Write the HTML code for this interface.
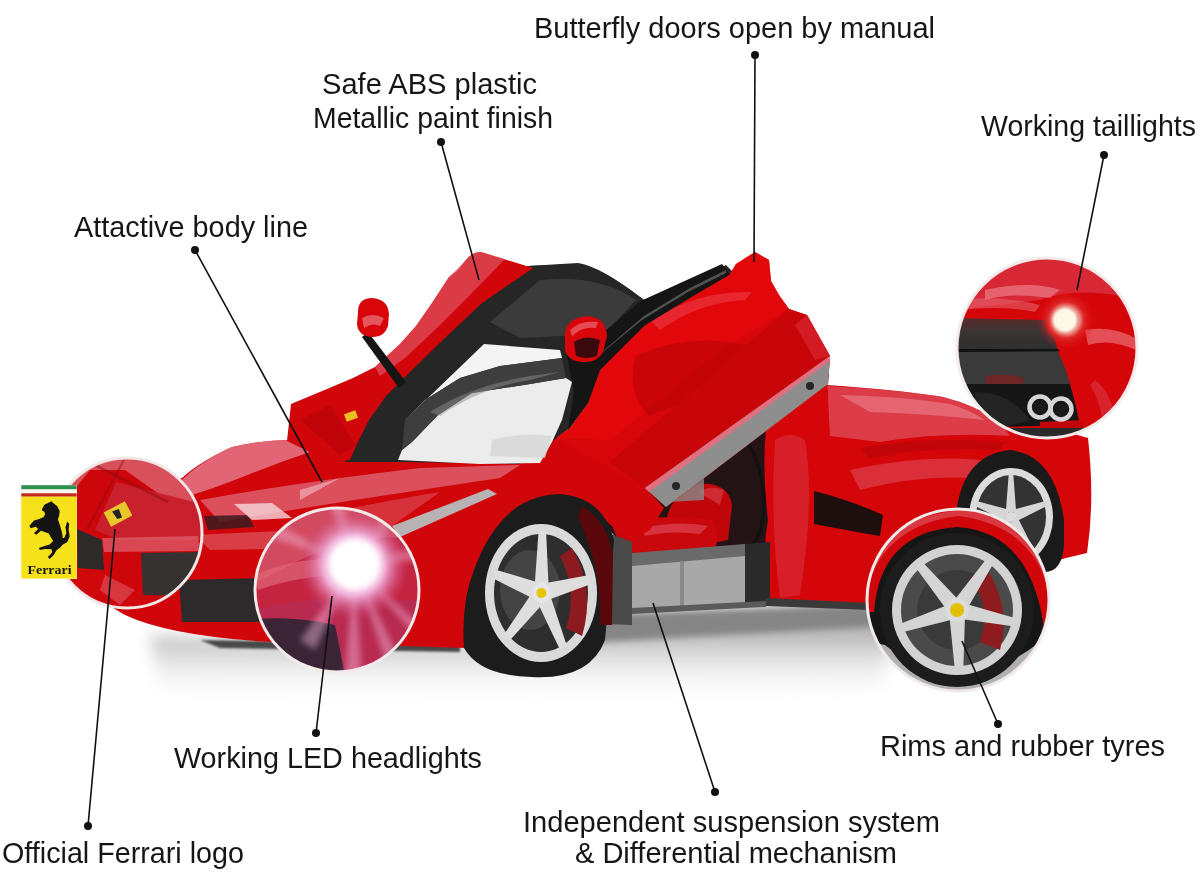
<!DOCTYPE html>
<html><head><meta charset="utf-8">
<style>
html,body{margin:0;padding:0;background:#fff;}
body{width:1200px;height:885px;overflow:hidden;position:relative;}
svg{position:absolute;left:0;top:0;display:block;will-change:transform;}
text{font-family:"Liberation Sans",sans-serif;font-size:29px;fill:#161616;}
</style></head>
<body>
<svg width="1200" height="885" viewBox="0 0 1200 885">
<defs>
  <filter id="blur8" x="-50%" y="-50%" width="200%" height="200%"><feGaussianBlur stdDeviation="8"/></filter>
  <filter id="blur3" x="-50%" y="-50%" width="200%" height="200%"><feGaussianBlur stdDeviation="3"/></filter>
  <filter id="blur1" x="-50%" y="-50%" width="200%" height="200%"><feGaussianBlur stdDeviation="1.2"/></filter>
  <linearGradient id="redV" x1="0" y1="0" x2="0" y2="1">
    <stop offset="0" stop-color="#e02530"/><stop offset="0.5" stop-color="#d00508"/><stop offset="1" stop-color="#a80306"/>
  </linearGradient>
  <radialGradient id="rimG" cx="0.5" cy="0.5" r="0.5">
    <stop offset="0.8" stop-color="#2a2a2a"/><stop offset="0.86" stop-color="#d8d8d8"/><stop offset="1" stop-color="#bdbdbd"/>
  </radialGradient>
</defs>
<rect width="1200" height="885" fill="#fff"/>

<!-- ground shadow -->
<g id="shadow">
  <defs>
    <linearGradient id="shG" x1="0" y1="0" x2="0" y2="1">
      <stop offset="0" stop-color="#8e8e8e"/><stop offset="0.35" stop-color="#bdbdbd"/><stop offset="1" stop-color="#ffffff" stop-opacity="0"/>
    </linearGradient>
  </defs>
  <path d="M150,636 L460,642 L600,622 L880,600 L900,620 L880,690 L600,700 L300,705 L160,690 Z" fill="url(#shG)" filter="url(#blur8)"/>
  <path d="M200,640 L460,644 L460,652 L220,648 Z" fill="#4a4a4a" filter="url(#blur1)"/>
  <path d="M600,614 L870,606 L880,626 L600,642 Z" fill="#858585" filter="url(#blur3)"/>
</g>
<!-- CAR -->
<g id="car">
  <!-- rear body -->
  <path d="M740,430 L827,385 Q900,390 943,397 Q975,405 1000,422 L1060,430 L1088,438 Q1095,500 1087,553 L1066,558 L1000,578 L856,606 L740,606 Z" fill="#d4060a"/>
  <path d="M827,386 Q900,390 943,397 Q975,405 1000,422 L1010,436 Q940,432 880,442 L830,436 Z" fill="#e05262" opacity="0.7"/>
  <path d="M840,395 Q900,396 950,404 Q970,410 985,420 Q930,414 870,412 Z" fill="#f09aa4" opacity="0.45"/>
  <path d="M860,448 Q930,436 1005,442 L1000,450 Q930,446 870,458 Z" fill="#b00408" opacity="0.5"/>
  <path d="M850,470 Q930,452 1000,462 L990,480 Q930,472 860,490 Z" fill="#e26070" opacity="0.45"/>
  <!-- rear wheel -->
  <path d="M956,515 Q962,455 1010,450 Q1055,455 1064,520 L1064,545 Q1062,572 1045,572 L956,572 Z" fill="#1a1a1a"/>
  <ellipse cx="1011" cy="517" rx="42" ry="49" fill="#dcdcdc"/>
  <ellipse cx="1011" cy="517" rx="35" ry="42" fill="#333"/>
  <path d="M1009.1,509.8 L976.5,500.9 L975.1,505.9 L1005.9,521.5 Z M1016.2,512.6 L1013.2,473.0 L1008.8,473.0 L1005.8,512.6 Z M1016.1,521.5 L1046.9,505.9 L1045.5,500.9 L1012.9,509.8 Z M1009.0,524.2 L1031.0,554.1 L1034.5,551.0 L1017.4,516.9 Z M1004.6,516.9 L987.5,551.0 L991.0,554.1 L1013.0,524.2 Z" fill="#d6d6d6"/>
  <circle cx="1011" cy="517" r="5" fill="#ddd"/>
  <!-- interior -->
  <path d="M600,430 L780,420 L775,560 L633,556 L600,520 Z" fill="#231315"/>
  <path d="M664,532 Q668,492 700,484 Q728,482 732,505 L728,540 L690,548 Z" fill="#c00608"/>
  <path d="M612,525 Q660,512 712,520 Q722,538 712,556 L625,558 Z" fill="#c8080c"/>
  <path d="M640,528 Q680,520 708,526 L700,534 Q670,530 645,536 Z" fill="#e05060" opacity="0.6"/>
  <path d="M698,492 Q712,484 724,490 L720,505 Z" fill="#e05060" opacity="0.5"/>
  <path d="M664,477 L704,466 L704,500 L668,502 Z" fill="#8a8a8a" opacity="0.8"/>
  <!-- rear side panel -->
  <path d="M766,428 Q790,410 815,398 L828,388 L832,600 L772,600 Q760,560 768,520 Q762,470 766,428 Z" fill="#d4060a"/>
  <path d="M775,440 Q790,430 805,440 Q815,500 800,595 L780,598 Q770,520 775,440 Z" fill="#d83444" opacity="0.55"/>
  <path d="M814,491 Q850,500 883,515 L880,536 Q845,530 814,524 Z" fill="#1e0e0e"/>
  <path d="M749,445 Q764,470 764,507 Q762,540 749,546 L634,559" stroke="#111" stroke-width="3" fill="none"/>
  <!-- side skirt + sill -->
  <path d="M606,532 L632,542 L632,625 L606,624 Z" fill="#4a4a4a"/>
  <path d="M632,556 L745,546 L745,606 L632,613 Z" fill="#a8a8a8"/>
  <path d="M632,553 L745,544 L745,556 L632,566 Z" fill="#6a6a6a"/>
  <path d="M745,544 L770,542 L770,604 L745,606 Z" fill="#2a2a2a"/>
  <path d="M680,561 L684,561 L684,610 L680,610 Z" fill="#8a8a8a"/>
  <path d="M632,608 L766,601 L766,607 L632,614 Z" fill="#5a5a5a"/>
  <path d="M766,598 L870,603 L870,610 L766,606 Z" fill="#3a3a3a"/>
  <!-- front body -->
  <path d="M72,530 Q95,490 182,478 Q199,462 232,447 Q262,440 290,440 L400,440 L398,457 L520,464 L560,430 L645,487 L664,508 L650,530 L633,540 L613,527 Q590,506 555,497 Q520,505 495,540 Q472,590 466,648 L270,642 Q170,636 125,615 Q80,590 72,560 Z" fill="#d0060a"/>
  <!-- hood highlight -->
  <path d="M180,482 Q199,462 232,447 Q262,440 290,440 L310,452 Q280,462 250,474 Q210,490 182,498 Z" fill="#e27080" opacity="0.9"/>
  
  <path d="M200,500 Q300,482 420,468 L520,465 L500,478 L420,490 Q320,505 220,522 Z" fill="#e06878" opacity="0.75"/>
  <path d="M300,520 Q360,505 440,492 L392,526 L320,545 Z" fill="#e06878" opacity="0.45"/>
  <path d="M204,516 L248,515 L254,527 L208,530 Z" fill="#3a1a1e" opacity="0.85"/>
  <path d="M234,504 L272,503 L292,518 L252,520 Z" fill="#f6d6dc" opacity="0.8"/>
  <path d="M300,490 L340,478 L300,500 Z" fill="#f4c0c8" opacity="0.6"/>
  <path d="M195,535 L300,530 L392,526 L320,548 L210,550 Z" fill="#e27482" opacity="0.5"/>
  <!-- headlight strip -->
  <path d="M392,526 L488,489 L497,494 L400,537 Z" fill="#b9b2b4"/>
  <!-- front grille -->
  <path d="M179,580 L262,578 L265,622 L182,622 Z" fill="#2c2a2a"/>
  <!-- front wheel -->
  <path d="M464,648 Q461,602 474,570 Q490,525 520,505 Q540,494 560,494 Q604,498 614,540 L605,640 Q590,680 532,677 Q480,676 464,648 Z" fill="#1c1c1c"/>
  <path d="M582,506 Q608,522 613,556 L612,625 L600,625 Q602,566 578,518 Z" fill="#5a080c"/>
  <ellipse cx="541" cy="593" rx="56" ry="69" fill="#dadada"/>
  <ellipse cx="541" cy="593" rx="47" ry="59" fill="#2e2e2e"/>
  <ellipse cx="530" cy="590" rx="30" ry="40" fill="#444"/>
  <path d="M572,548 Q596,590 582,636 L566,628 Q578,592 560,556 Z" fill="#8c1a1e"/>
  <path d="M538.9,582.8 L495.1,569.4 L492.8,578.3 L534.6,599.3 Z M548.6,587.0 L546.1,531.1 L538.6,530.9 L534.6,586.6 Z M547.9,600.1 L591.1,584.1 L589.5,575.0 L544.9,583.2 Z M537.5,602.4 L560.4,650.6 L567.1,646.5 L550.0,594.7 Z M533.0,591.4 L504.1,634.4 L509.5,640.8 L543.1,603.5 Z" fill="#dedede"/>
  <ellipse cx="541.5" cy="593" rx="9" ry="10" fill="#e6e6e6"/>
  <circle cx="541.5" cy="593" r="5" fill="#e5c400"/>
  <!-- cabin dark -->
  <path d="M345,462 L352,446 L365,420 L382,396 L408,370 L442,337 L478,303 L528,266 L578,264 Q600,266 644,300 L726,265 L733,272 L661,320 L617,367 L588,403 L570,428 L534,455 L520,464 L400,462 Z" fill="#262626"/>
  <!-- black roof -->
  <path d="M528,266 L578,263 Q600,266 644,300 L611,331 L597,350 L560,348 L484,342 L412,414 L408,370 L442,337 L478,303 Z" fill="#262626"/>
  <path d="M540,280 Q600,274 636,300 L604,334 L520,338 L490,322 Z" fill="#4a4a4a" opacity="0.6"/>
  <!-- windshield light -->
  <path d="M405,420 L484,344 L560,350 L562,358 L500,366 L460,378 L425,400 Z" fill="#f4f4f4"/>
  <path d="M398,460 L402,450 L412,442 L438,415 L472,393 L530,384 L566,378 L572,382 L562,420 L552,442 L540,463 L480,464 Z" fill="#ececec"/>
  <path d="M405,420 L425,400 L460,378 L500,366 L562,358 L566,378 L530,384 L472,393 L438,415 L412,442 L402,450 Z" fill="#3e3e3e"/>
  <path d="M430,412 Q470,386 530,376 L560,372 L530,380 Q480,388 440,416 Z" fill="#8a8a8a" opacity="0.5"/>
  <path d="M492,440 Q520,432 552,436 L545,458 L490,456 Z" fill="#d6d6d6" opacity="0.8"/>
  <!-- left door -->
  <path d="M287,441 L291,404 L327,389 L353,378 L375,367 L400,344 L416,326 L432,303 L449,277 L457,271 L466,260 Q472,252 481,252 L533,268 L482,303 L446,337 L412,370 L386,396 L369,420 L356,446 L350,460 L330,462 Z" fill="#d0060a"/>
  <path d="M300,420 L330,405 L356,446 L340,455 Z" fill="#b80408" opacity="0.6"/>
  <path d="M375,367 L400,344 L416,326 L432,303 L449,277 L466,260 Q472,252 481,252 L505,259 L470,295 L440,325 L405,358 L380,376 Z" fill="#de5866" opacity="0.65"/>
  <rect x="345" y="412" width="12" height="8" fill="#e8c020" transform="rotate(-20 351 416)"/>
  <!-- left mirror -->
  <path d="M368,332 L406,382 L399,388 L362,337 Z" fill="#151515"/>
  <path d="M358,312 Q358,298 372,298 Q388,299 389,314 L388,326 Q384,338 372,337 Q358,336 357,324 Z" fill="#d8060a"/>
  <path d="M362,318 Q372,312 384,318 L380,326 Q372,322 364,328 Z" fill="#f08a94" opacity="0.6"/>
  <!-- right door -->
  <path d="M730,274 L736,264 L755,252 L769,260 L771,281 L779,295 L789,309 L807,315 L830,356 L828,384 L666,507 L645,488 L556,438 L570,428 L588,403 L600,370 L644.7,325.4 L691.5,297 Z" fill="#d7060a"/>
  <path d="M736,264 L755,252 L769,260 L771,281 L779,295 L789,309 L720,350 L660,400 L610,440 L556,438 L570,428 L588,403 L600,370 L644,325 L691,297 L730,274 Z" fill="#e4080c" opacity="0.85"/>
  <path d="M636,356 Q690,332 745,345 L738,382 Q700,396 648,416 Q626,392 636,356 Z" fill="#b00406" opacity="0.5"/>
  <path d="M650,320 Q700,290 752,292 L745,300 Q700,302 660,330 Z" fill="#f06070" opacity="0.35"/>
  <path d="M789,309 L807,315 L830,356 L828,384 L666,507 L645,488 L610,462 Z" fill="#c80508"/>
  <path d="M807,315 L830,356 L815,360 L795,325 Z" fill="#d82a36" opacity="0.6"/>
  <!-- right door frame -->
  <path d="M722,264 L640.7,301 L600,335.6 L578,367 L574,392 L568,430 L588,403 L600,370 L644.7,325.4 L691.5,297 L730,274.6 Z" fill="#151515"/>
  <path d="M726,270 L690,288 L644,316 L602,352 L598,356 L642,320 L688,292 L726,273 Z" fill="#6a6a6a" opacity="0.7"/>
  <!-- door bottom grey strip -->
  <path d="M830,356 L828,384 L666,507 L645,488 Z" fill="#8e8e8e"/>
  <path d="M830,356 L645,488 L649,492 L830,361 Z" fill="#e07080"/>
  <circle cx="810" cy="386" r="4" fill="#262626"/>
  <circle cx="676" cy="486" r="4" fill="#262626"/>
  <!-- right mirror -->
  <path d="M566,352 L580,356 L588,400 L576,402 Z" fill="#151515"/>
  <path d="M565,334 Q566,318 588,316 Q606,318 607,336 L603,352 Q598,362 584,362 Q568,362 565,350 Z" fill="#d8060a"/>
  <path d="M574,342 Q586,334 600,340 L597,356 Q586,360 576,356 Z" fill="#3a0a0e"/>
  <path d="M570,330 Q580,320 598,322 L596,328 Q582,326 572,336 Z" fill="#f07a84" opacity="0.6"/>
</g>

<!-- CIRCLES -->
<g id="circles">
  <defs>
    <clipPath id="cLogo"><circle cx="127" cy="533" r="75"/></clipPath>
    <clipPath id="cHead"><circle cx="337" cy="590" r="82"/></clipPath>
    <clipPath id="cTail"><circle cx="1047" cy="348" r="90"/></clipPath>
    <clipPath id="cWheel"><circle cx="958" cy="600" r="91"/></clipPath>
    <radialGradient id="glow" cx="0.5" cy="0.5" r="0.5">
      <stop offset="0" stop-color="#fff"/><stop offset="0.3" stop-color="#fff"/><stop offset="0.55" stop-color="#f0b0d8"/><stop offset="1" stop-color="#c83a70" stop-opacity="0"/>
    </radialGradient>
    <radialGradient id="tl" cx="0.5" cy="0.5" r="0.5">
      <stop offset="0" stop-color="#fffbe8"/><stop offset="0.55" stop-color="#fff0d0"/><stop offset="0.7" stop-color="#e03030"/><stop offset="1" stop-color="#b80305"/>
    </radialGradient>
  </defs>
  <!-- logo circle -->
  <g clip-path="url(#cLogo)">
    <rect x="50" y="455" width="160" height="160" fill="#cc060a"/>
    <path d="M50,455 L210,455 L210,505 L169,501 L125,470 L90,470 L50,520 Z" fill="#d8505a"/>
    <path d="M116,482 L198,503 L210,520 L200,540 L120,540 L95,530 Z" fill="#c8202c"/>
    <path d="M96,464 L169,501 L167,503 L94,466 Z" fill="#8a0c14" opacity="0.45"/>
    <path d="M125,460 L88,530 L86,529 L123,459 Z" fill="#8a0c14" opacity="0.4"/>
    <path d="M102,538 L198,536 L200,551 L104,552 Z" fill="#e06470" opacity="0.7"/>
    <path d="M77,529 L102,540 L104,570 L78,568 Z" fill="#2e2a2a"/>
    <path d="M141,553 L200,552 L198,596 L143,595 Z" fill="#363232"/>
    <path d="M50,570 L102,572 L140,600 L210,598 L210,615 L50,615 Z" fill="#d0080c"/>
    <path d="M105,575 L135,590 L120,605 L100,590 Z" fill="#e06470" opacity="0.5"/>
    <g transform="translate(118,514) rotate(-28)"><rect x="-12" y="-8" width="24" height="16" fill="#e9c62a"/><path d="M-4,-5 L3,-4 L2,5 L-3,4 Z" fill="#222"/></g>
  </g>
  <circle cx="127" cy="533" r="75" fill="none" stroke="#f2e6e6" stroke-width="3"/>
  <!-- headlight circle -->
  <g clip-path="url(#cHead)">
    <rect x="250" y="505" width="175" height="170" fill="#c42440"/>
    <path d="M250,505 L425,505 L425,540 Q360,530 300,560 L250,585 Z" fill="#d24a60"/>
    <path d="M255,575 Q300,555 350,560 L350,575 Q300,575 258,590 Z" fill="#e06878" opacity="0.7"/>
    <path d="M250,610 Q300,600 340,598 L420,600 L420,675 L250,675 Z" fill="#b82a50"/>
    <path d="M250,620 Q290,615 335,625 L345,675 L250,675 Z" fill="#3a2436"/>
    <g fill="#f4b8dc" opacity="0.45" filter="url(#blur3)">
      <path d="M354,566 L300,640 L315,650 Z"/>
      <path d="M354,566 L345,675 L362,675 Z"/>
      <path d="M354,566 L390,675 L405,670 Z"/>
      <path d="M354,566 L420,640 L420,625 Z"/>
      <path d="M354,566 L420,560 L420,545 Z"/>
      <path d="M354,566 L390,505 L405,510 Z"/>
      <path d="M354,566 L330,505 L345,505 Z"/>
      <path d="M354,566 L270,520 L265,535 Z"/>
    </g>
    <circle cx="354" cy="565" r="56" fill="url(#glow)"/>
    <circle cx="355" cy="564" r="25" fill="#fff" filter="url(#blur3)"/>
  </g>
  <circle cx="337" cy="590" r="82" fill="none" stroke="#f4eaea" stroke-width="3"/>
  <!-- taillight circle -->
  <g clip-path="url(#cTail)">
    <defs>
      <linearGradient id="tailBand" x1="0" y1="0" x2="0" y2="1">
        <stop offset="0" stop-color="#5a2a2c"/><stop offset="0.4" stop-color="#3a3434"/><stop offset="1" stop-color="#2e2e2e"/>
      </linearGradient>
      <radialGradient id="tlHalo" cx="0.5" cy="0.5" r="0.5">
        <stop offset="0" stop-color="#fff8e8"/><stop offset="0.45" stop-color="#fff0dc"/><stop offset="0.6" stop-color="#f04040"/><stop offset="1" stop-color="#d80508" stop-opacity="0"/>
      </radialGradient>
    </defs>
    <rect x="955" y="256" width="185" height="185" fill="#d4060a"/>
    <path d="M955,256 L1140,256 L1140,300 Q1080,285 1040,300 L955,310 Z" fill="#d83040" opacity="0.8"/>
    <path d="M985,290 Q1030,280 1060,290 L1050,298 Q1010,292 985,300 Z" fill="#f08a94" opacity="0.6"/>
    <path d="M960,300 Q1000,295 1040,305 L1035,312 Q1000,305 960,310 Z" fill="#e8707c" opacity="0.5"/>
    <path d="M955,318 L1045,320 Q1055,335 1058,352 L955,352 Z" fill="url(#tailBand)"/>
    <path d="M955,349 L1058,349 L1060,351 L955,352 Z" fill="#111"/>
    <path d="M955,352 L1058,352 Q1066,368 1070,384 L955,384 Z" fill="#3a3a3a"/>
    <path d="M986,376 Q1005,372 1024,378 L1023,384 L986,384 Z" fill="#6e2626"/>
    <path d="M955,384 L1070,384 Q1076,405 1080,425 L955,428 Z" fill="#161616"/>
    <path d="M975,392 Q1010,392 1030,420 L1000,428 L975,420 Z" fill="#242424"/>
    <path d="M1040,422 L1083,420 L1085,436 L1040,436 Z" fill="#c00609"/>
    <path d="M955,428 L1140,428 L1140,445 L955,445 Z" fill="#2a2a2a"/>
    <path d="M1050,300 Q1075,340 1080,423 L1140,423 L1140,300 Z" fill="#d4060a"/>
    <path d="M1085,330 Q1115,325 1138,340 L1136,350 Q1110,338 1088,345 Z" fill="#f08a94" opacity="0.55"/>
    <path d="M1095,380 Q1110,390 1120,430 L1105,432 Q1100,400 1090,385 Z" fill="#e05060" opacity="0.4"/>
    <circle cx="1040" cy="407" r="10.5" fill="none" stroke="#d6d6d6" stroke-width="4.5"/>
    <circle cx="1061" cy="409" r="10.5" fill="none" stroke="#d6d6d6" stroke-width="4.5"/>
    <circle cx="1040" cy="407" r="6" fill="#1a1a1a"/>
    <circle cx="1061" cy="409" r="6" fill="#1a1a1a"/>
    <circle cx="1066" cy="320" r="21" fill="#c80508"/>
    <circle cx="1066" cy="320" r="30" fill="url(#tlHalo)" opacity="0.6"/>
    <circle cx="1065" cy="320" r="12" fill="#fff8e6" filter="url(#blur1)"/>
  </g>
  <circle cx="1047" cy="348" r="90" fill="none" stroke="#f4eaea" stroke-width="3"/>
  <!-- wheel circle -->
  <g clip-path="url(#cWheel)">
    <rect x="865" y="507" width="190" height="190" fill="#161616"/>
    <path d="M874,612 Q880,532 957,527 Q1038,532 1046,648 L1060,648 L1060,500 L860,500 L860,612 Z" fill="#d0060a"/>
    <path d="M866,590 Q875,520 958,510 Q1040,515 1052,600 Q1035,525 958,516 Q885,525 866,590 Z" fill="#e05a66" opacity="0.6"/>
    <path d="M860,640 L885,645 Q958,705 1040,642 L1060,640 L1060,700 L860,700 Z" fill="#b0b0b0"/>
    <circle cx="957" cy="610" r="77" fill="#1c1c1c"/>
    <circle cx="957" cy="610" r="65" fill="#d2d2d2"/>
    <circle cx="957" cy="610" r="56" fill="#4a4a4a"/>
    <circle cx="957" cy="610" r="40" fill="#3a3a3a"/>
    <path d="M985,567 Q1012,605 1000,650 L980,642 Q992,606 970,578 Z" fill="#8e1c1e"/>
    <path d="M959.1,600.4 L921.7,561.3 L915.2,566.7 L947.2,610.4 Z M966.8,609.4 L994.0,562.6 L987.1,557.9 L953.9,600.7 Z M961.2,618.9 L1014.8,626.6 L1016.6,618.4 L964.5,603.6 Z M949.4,616.3 L954.9,670.1 L963.3,669.8 L965.0,615.7 Z M948.9,604.4 L898.6,624.5 L901.2,632.5 L953.7,619.3 Z" fill="#d4d4d4"/>
    <circle cx="957" cy="610" r="12" fill="#dcdcdc"/>
    <circle cx="957" cy="610" r="7" fill="#e0c000"/>
  </g>
  <circle cx="958" cy="600" r="91" fill="none" stroke="#f2eaea" stroke-width="3"/>
  <!-- Ferrari shield logo -->
  <g id="logo">
    <rect x="21" y="485" width="56" height="94" fill="#f7f7f2"/>
    <rect x="21.3" y="485.2" width="55.4" height="4" fill="#2f8f4e"/>
    <rect x="21.3" y="493.3" width="55.4" height="3.4" fill="#c42a1e"/>
    <rect x="21.3" y="496.7" width="55.4" height="81.9" fill="#f6e21a"/>
    <polygon points="41.8,509.5 44.4,504.8 48.4,502.8 51.7,501.3 53.1,503.1 57.1,506.0 59.8,511.1 59.1,515.8 57.9,519.2 60.2,526.1 62.1,533.1 62.8,538.2 64.4,537.7 66.3,533.1 65.5,527.3 67.1,521.8 69.2,523.6 68.6,529.6 69.7,536.5 67.1,542.3 62.9,544.6 60.2,547.5 56.3,550.6 53.8,555.0 49.6,558.9 47.8,557.0 52.1,552.4 51.7,549.2 45.2,549.0 39.8,549.9 38.8,548.1 44.4,546.0 49.6,544.6 53.1,541.1 48.7,533.6 41.0,530.7 36.3,534.8 34.0,533.3 38.1,529.0 35.8,526.7 30.6,528.2 29.4,525.7 34.0,520.6 39.2,519.0 43.6,517.1 45.2,514.0 44.1,511.6 42.7,510.9" fill="#141414"/>
    <text x="27.5" y="573.5" style="font-family:'Liberation Serif',serif;font-size:13.5px;font-weight:bold;fill:#141414" textLength="44" lengthAdjust="spacingAndGlyphs">Ferrari</text>
    
  </g>
</g>

<!-- leader lines -->
<g id="lines" stroke="#111" stroke-width="1.6" fill="none">
  <line x1="755" y1="55" x2="754" y2="262"/>
  <line x1="441" y1="142" x2="479" y2="280"/>
  <line x1="195" y1="250" x2="322" y2="482"/>
  <line x1="1104" y1="155" x2="1077" y2="290"/>
  <line x1="316" y1="733" x2="332" y2="596"/>
  <line x1="88" y1="826" x2="115" y2="529"/>
  <line x1="715" y1="792" x2="653" y2="603"/>
  <line x1="998" y1="724" x2="962" y2="641"/>
</g>
<g id="dots" fill="#111">
  <circle cx="755" cy="55" r="4"/>
  <circle cx="441" cy="142" r="4"/>
  <circle cx="195" cy="250" r="4"/>
  <circle cx="1104" cy="155" r="4"/>
  <circle cx="316" cy="733" r="4"/>
  <circle cx="88" cy="826" r="4"/>
  <circle cx="715" cy="792" r="4"/>
  <circle cx="998" cy="724" r="4"/>
</g>

<!-- labels -->
<g id="labels">
  <text x="534" y="37.5" textLength="401" lengthAdjust="spacingAndGlyphs">Butterfly doors open by manual</text>
  <text x="322" y="94" textLength="215" lengthAdjust="spacingAndGlyphs">Safe ABS plastic</text>
  <text x="313" y="128" textLength="240" lengthAdjust="spacingAndGlyphs">Metallic paint finish</text>
  <text x="74" y="237" textLength="234" lengthAdjust="spacingAndGlyphs">Attactive body line</text>
  <text x="981" y="136" textLength="215" lengthAdjust="spacingAndGlyphs">Working taillights</text>
  <text x="174" y="768" textLength="308" lengthAdjust="spacingAndGlyphs">Working LED headlights</text>
  <text x="2" y="863" textLength="242" lengthAdjust="spacingAndGlyphs">Official Ferrari logo</text>
  <text x="523" y="832" textLength="417" lengthAdjust="spacingAndGlyphs">Independent suspension system</text>
  <text x="575" y="863" textLength="322" lengthAdjust="spacingAndGlyphs">&amp; Differential mechanism</text>
  <text x="880" y="756" textLength="285" lengthAdjust="spacingAndGlyphs">Rims and rubber tyres</text>
</g>
</svg>
</body></html>
